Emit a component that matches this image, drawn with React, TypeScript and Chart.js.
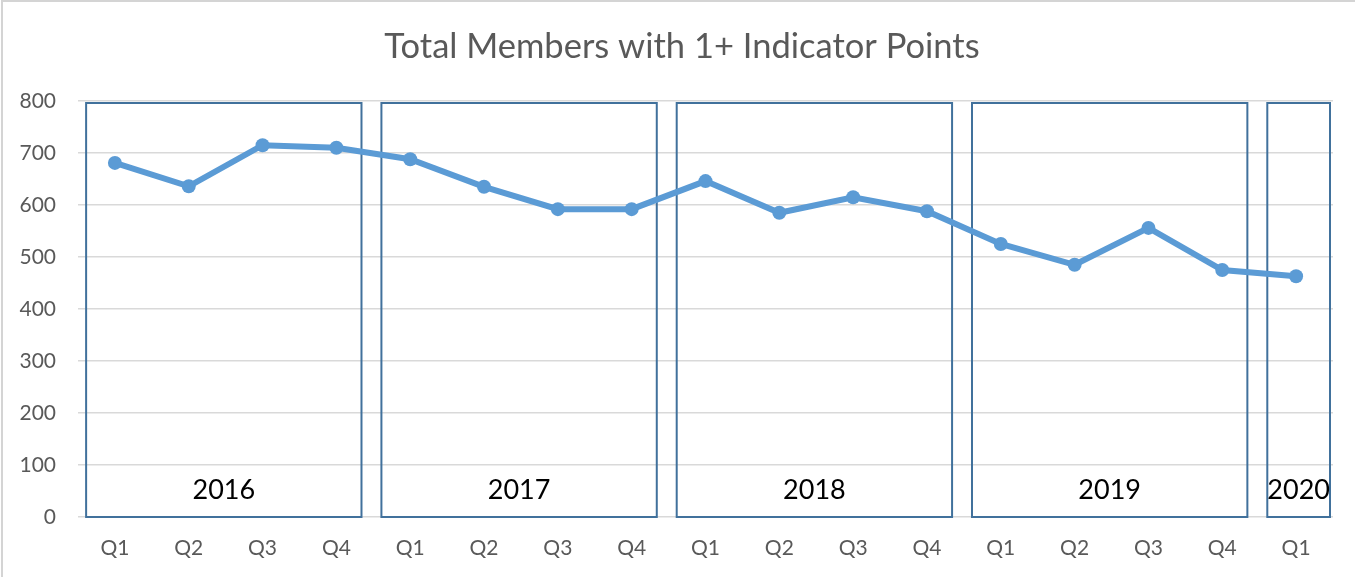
import React, { useEffect, useRef } from "react";
import { Chart, registerables } from "chart.js";

Chart.register(...registerables);

const TITLE = "Total Members with 1+ Indicator Points";
const quarterLabels = ["Q1", "Q2", "Q3", "Q4", "Q1", "Q2", "Q3", "Q4", "Q1", "Q2", "Q3", "Q4", "Q1", "Q2", "Q3", "Q4", "Q1"];
const memberValues = [681, 636, 715, 710, 688, 635, 592, 592, 646, 585, 615, 588, 525, 485, 556, 475, 463];
const yearNames = ["2016", "2017", "2018", "2019", "2020"];
const yearStartIndex = [0, 4, 8, 12, 16];
const yearEndIndex = [3, 7, 11, 15, 16];
const yTickValues = [0, 100, 200, 300, 400, 500, 600, 700, 800];

const FONT = "Lato, 'Open Sans', sans-serif";

const yearBoxPlugin = {
  id: "yearBoxes",
  beforeDraw(chart: any) {
    const ctx = chart.ctx;
    ctx.save();
    ctx.fillStyle = "#ffffff";
    ctx.fillRect(0, 0, chart.width, chart.height);
    ctx.strokeStyle = "#d4d4d4";
    ctx.lineWidth = 2;
    ctx.beginPath();
    ctx.moveTo(2, chart.height);
    ctx.lineTo(2, 1);
    ctx.lineTo(chart.width, 1);
    ctx.stroke();
    ctx.fillStyle = "#595959";
    ctx.font = `34.5px ${FONT}`;
    ctx.textAlign = "center";
    ctx.textBaseline = "middle";
    ctx.fillText(TITLE, 682, 47);
    ctx.restore();
  },
  beforeDatasetsDraw(chart: any) {
    const ctx = chart.ctx;
    const x = chart.scales.x;
    const y = chart.scales.y;
    const step = x.getPixelForValue(1) - x.getPixelForValue(0);
    const top = y.getPixelForValue(800) + 2;
    const bottom = y.getPixelForValue(0);
    ctx.save();
    ctx.strokeStyle = "#41719c";
    ctx.lineWidth = 2;
    for (let i = 0; i < yearNames.length; i++) {
      const left = x.getPixelForValue(yearStartIndex[i]) - 0.39 * step;
      let right = x.getPixelForValue(yearEndIndex[i]) + 0.34 * step;
      if (i === yearNames.length - 1) right = chart.chartArea.right - 3;
      ctx.strokeRect(left, top, right - left, bottom - top);
      ctx.fillStyle = "#000000";
      ctx.font = `27px ${FONT}`;
      ctx.textAlign = "center";
      ctx.textBaseline = "middle";
      ctx.fillText(yearNames[i], (left + right) / 2, y.getPixelForValue(51));
    }
    ctx.restore();
  },
};

export default function App() {
  const ref = useRef<HTMLCanvasElement | null>(null);

  useEffect(() => {
    if (!ref.current) return;
    const chart = new Chart(ref.current, {
      type: "line",
      data: {
        labels: quarterLabels,
        datasets: [
          {
            label: "Total Members",
            data: memberValues,
            borderColor: "#5b9bd5",
            backgroundColor: "#5b9bd5",
            borderWidth: 6,
            pointRadius: 7,
            pointHoverRadius: 7,
            pointBorderWidth: 0,
            tension: 0,
          },
        ],
      },
      options: {
        animation: false,
        responsive: false,
        layout: { padding: { top: 101, right: 22, bottom: 0, left: 0 } },
        plugins: {
          legend: { display: false },
          tooltip: { enabled: false },
          title: { display: false },
        },
        scales: {
          x: {
            offset: true,
            grid: { display: false, drawTicks: false, offset: true },
            border: { display: false },
            ticks: {
              color: "#595959",
              font: { family: FONT, size: 21 },
              padding: 19,
              maxRotation: 0,
              autoSkip: false,
            },
            afterFit(scale: any) {
              scale.height = 60;
            },
          },
          y: {
            min: 0,
            max: 800,
            grid: { color: "#d9d9d9", lineWidth: 1.5, drawTicks: false },
            border: { display: false },
            afterBuildTicks(scale: any) {
              scale.ticks = yTickValues.map((v) => ({ value: v }));
            },
            ticks: {
              color: "#595959",
              font: { family: FONT, size: 21 },
              padding: 22,
            },
            afterFit(scale: any) {
              scale.width = 78;
            },
          },
        },
      },
      plugins: [yearBoxPlugin],
    });
    return () => chart.destroy();
  }, []);

  return (
    <div style={{ position: "fixed", left: 0, top: 0, width: 1355, height: 577, background: "#fff" }}>
      <canvas ref={ref} width={1355} height={577} style={{ width: 1355, height: 577, display: "block" }} />
    </div>
  );
}
